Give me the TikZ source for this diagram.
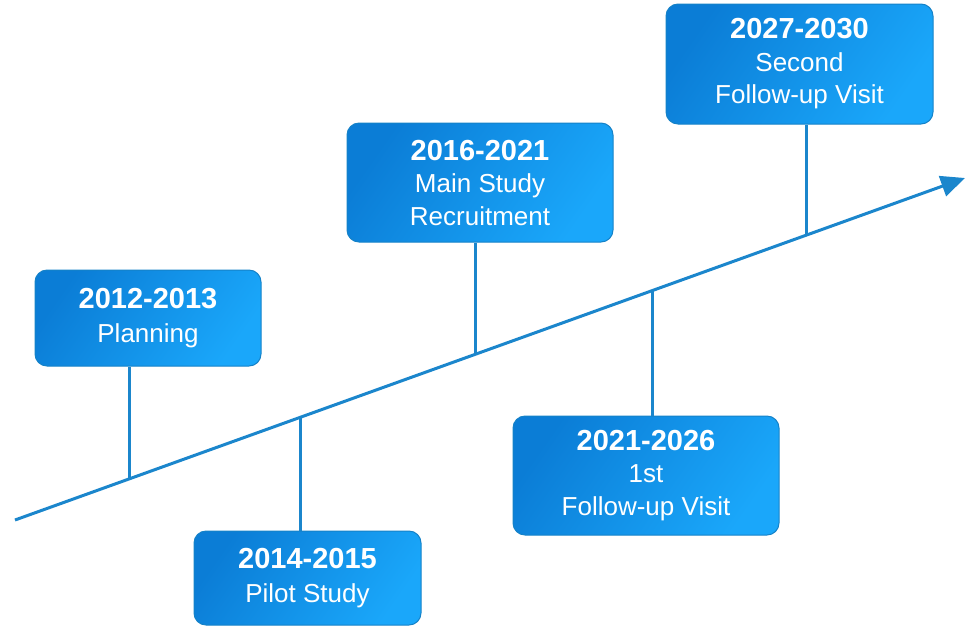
\documentclass[tikz,border=0pt]{standalone}
\usepackage{fontspec}
\setmainfont{Liberation Sans}
\usetikzlibrary{calc}
\usetikzlibrary{arrows.meta}
\definecolor{tlline}{HTML}{1B86CC}
\definecolor{tldark}{HTML}{0B7DD6}
\definecolor{tllight}{HTML}{1AA7FA}
\definecolor{tlrim}{HTML}{1582C8}
\newcommand{\yr}[1]{{\fontsize{29}{33}\selectfont\bfseries #1}}

\begin{document}
\begin{tikzpicture}[x=1pt,y=-1pt,>={Triangle[length=24pt,width=21pt]},
        phase/.style={draw=tlrim,line width=1pt,rounded corners=12pt,
            left color=tldark,right color=tllight,shading angle=55,
            text=white,align=center,font=\fontsize{26}{32.5}\selectfont},
        stem/.style={tlline,line width=3pt}]
            \useasboundingbox (0,0) rectangle (979,625);
            \coordinate (start) at (15,520);
            \coordinate (end) at (965,178);
            \draw[stem,->] (start) -- (end);
            \node[phase,minimum width=226pt,minimum height=96pt] (plan) at (148,318)
                {\yr{2012-2013}\\[1pt]Planning};
            \node[phase,minimum width=227pt,minimum height=94pt] (pilot) at (307.5,578)
                {\yr{2014-2015}\\[1pt]Pilot Study};
            \node[phase,minimum width=266pt,minimum height=119pt] (main) at (480,182.5)
                {\yr{2016-2021}\\Main Study\\Recruitment};
            \node[phase,minimum width=266pt,minimum height=119pt] (first) at (646,475.5)
                {\yr{2021-2026}\\1st\\Follow-up Visit};
            \node[phase,minimum width=267pt,minimum height=120pt] (second) at (799.5,64)
                {\yr{2027-2030}\\Second\\Follow-up Visit};
            \foreach \ph/\t/\side in {plan/0.121/south,pilot/0.301/north,main/0.485/south,
                    first/0.671/north,second/0.833/south}
                \draw[stem] ($(start)!\t!(end)$) coordinate (p-\ph) -- (p-\ph |- \ph.\side);
        \end{tikzpicture}
\end{document}
